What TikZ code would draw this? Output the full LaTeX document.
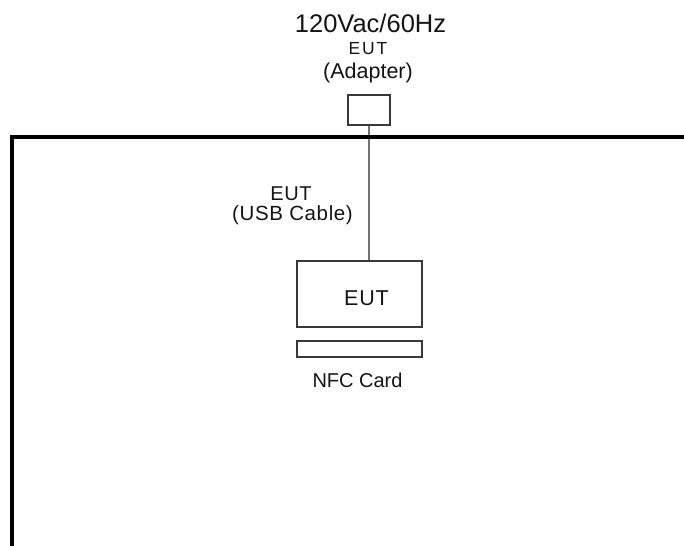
\documentclass[tikz,border=0pt]{standalone}
\usepackage{fontspec}
\setmainfont{Liberation Sans}
\newcommand{\fs}[2]{\fontsize{#1}{#1}\selectfont\addfontfeatures{LetterSpace=#2}}
\begin{document}
\begin{tikzpicture}[x=1pt,y=-1pt,
  box/.style={draw=black!78,line width=1.7pt,inner sep=0pt,minimum width=0pt},
  lbl/.style={text=black!92,inner sep=0pt,anchor=base},
  frameline/.style={line width=3.2pt,black},
  cable/.style={draw=black!55,line width=2pt}]
\useasboundingbox (0,0) rectangle (684,546);
% labels
\node[lbl,font=\fs{25.5}{0}] (supply) at (370.5,32) {120Vac/60Hz};
\node[lbl,font=\fs{17.5}{11}] (adeut) at (368,54) {EUT};
\node[lbl,font=\fs{21.5}{0}] (adlbl) at (368,78) {(Adapter)};
% adapter
\node[box,minimum width=42pt,minimum height=30pt] (adapter) at (369,110) {};
% EUT
\node[box,minimum width=125pt,minimum height=66pt] (eut) at (359.5,294) {};
\node[lbl,font=\fs{21.5}{4}] (eutlbl) at (366.5,305) {EUT};
% cable
\draw[cable] (adapter.south) -- (adapter.south |- eut.north);
% frame
\coordinate (fr) at (684,137);
\coordinate (fc) at (12,137);
\coordinate (fb) at (12,546);
\draw[frameline] (fr) -- (fc) -- (fb);
% usb label
\node[lbl,font=\fs{20}{3}] (usbeut) at (291,200) {EUT};
\node[lbl,font=\fs{20.5}{3}] (usblbl) at (292.5,220) {(USB Cable)};
% NFC card
\node[box,minimum width=125pt,minimum height=16pt] (nfc) at (359.5,349) {};
\node[lbl,font=\fs{20}{0}] (nfclbl) at (357.5,387) {NFC Card};
\end{tikzpicture}
\end{document}
